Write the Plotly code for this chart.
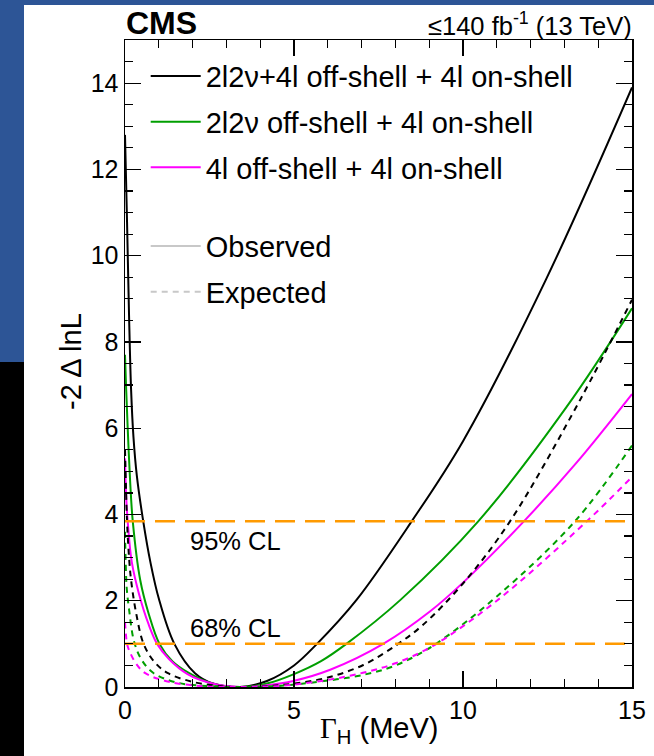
import plotly.graph_objects as go

# ---------------- data ----------------
x_range = [0, 15]

obs_comb_x = [0, 0.06, 0.12, 0.18, 0.25, 0.35, 0.54, 0.75, 1.0, 1.46, 2.07, 2.6, 3.4, 4.2, 5.0, 5.68, 6.85, 8.48, 10.0, 12.45, 15]
obs_comb_y = [12.8, 10.8, 8.6, 6.9, 5.8, 4.9, 3.84, 2.9, 2.05, 1.0, 0.32, 0.08, 0.0, 0.14, 0.5, 1.0, 2.02, 3.84, 5.7, 9.44, 13.9]

exp_comb_x = [0, 0.03, 0.06, 0.12, 0.18, 0.33, 0.55, 0.85, 1.27, 2.0, 2.7, 3.4, 4.2, 5.0, 6.0, 7.05, 8.08, 8.8, 10.0, 11.39, 13.46, 15]
exp_comb_y = [5.5, 4.6, 3.84, 3.0, 2.48, 1.71, 1.0, 0.6, 0.32, 0.12, 0.03, 0.0, 0.02, 0.08, 0.22, 0.51, 1.0, 1.43, 2.4, 3.84, 6.65, 8.98]

obs_2l2v_x = [0, 0.03, 0.08, 0.15, 0.23, 0.45, 0.7, 1.02, 1.4, 1.9, 2.5, 3.4, 4.2, 5.0, 5.8, 6.55, 8.15, 10.45, 13.07, 15]
obs_2l2v_y = [7.7, 7.0, 6.0, 4.8, 3.84, 2.48, 1.7, 1.0, 0.6, 0.32, 0.1, 0.0, 0.08, 0.3, 0.6, 1.0, 2.02, 3.84, 6.5, 8.78]

exp_2l2v_x = [0, 0.02, 0.05, 0.12, 0.27, 0.5, 0.85, 1.55, 2.5, 3.4, 4.5, 5.5, 7.04, 8.0, 9.1, 11.0, 13.31, 15]
exp_2l2v_y = [3.6, 2.9, 2.3, 1.8, 1.05, 0.62, 0.32, 0.1, 0.02, 0.0, 0.02, 0.1, 0.28, 0.5, 0.95, 2.1, 3.84, 5.6]

obs_4l_x = [0, 0.03, 0.08, 0.2, 0.41, 0.7, 0.95, 1.3, 1.85, 2.5, 3.4, 4.2, 4.98, 6.07, 7.64, 9.02, 10.0, 11.8, 13.36, 15]
obs_4l_y = [5.3, 4.5, 3.84, 2.9, 2.17, 1.45, 1.0, 0.65, 0.3, 0.1, 0.0, 0.04, 0.14, 0.4, 1.0, 1.75, 2.42, 3.84, 5.2, 6.79]

exp_4l_x = [0, 0.03, 0.06, 0.15, 0.33, 0.6, 1.3, 2.3, 3.4, 4.5, 5.97, 7.04, 8.0, 9.1, 11.0, 13.66, 15]
exp_4l_y = [1.5, 1.2, 1.0, 0.8, 0.54, 0.32, 0.12, 0.02, 0.0, 0.02, 0.16, 0.33, 0.55, 0.95, 2.0, 3.84, 4.87]

cl_levels = [1.0, 3.84]
cl_labels = ["68% CL", "95% CL"]

series_names = ["2l2ν+4l off-shell + 4l on-shell",
                "2l2ν off-shell + 4l on-shell",
                "4l off-shell + 4l on-shell"]
x_ticks = [0, 5, 10, 15]
y_ticks = [0, 2, 4, 6, 8, 10, 12, 14]

# ---------------- styling ----------------
FONT = "Liberation Sans, Arial, Helvetica, sans-serif"
BLACK = "#000000"
GREEN = "#009F00"
MAGENTA = "#FF00FF"
ORANGE = "#FF9A00"
GREY = "#C8C8C8"
BLUE_BG = "#2D5596"

fig = go.Figure()

curves = [
    (obs_comb_x, obs_comb_y, BLACK, "solid", series_names[0], True, "g1"),
    (obs_2l2v_x, obs_2l2v_y, GREEN, "solid", series_names[1], True, "g2"),
    (obs_4l_x, obs_4l_y, MAGENTA, "solid", series_names[2], True, "g3"),
    (exp_comb_x, exp_comb_y, BLACK, "6px,5px", series_names[0] + " (exp)", False, "g1"),
    (exp_2l2v_x, exp_2l2v_y, GREEN, "6px,5px", series_names[1] + " (exp)", False, "g2"),
    (exp_4l_x, exp_4l_y, MAGENTA, "6px,5px", series_names[2] + " (exp)", False, "g3"),
]
for xs, ys, col, dash, name, show, grp in curves:
    fig.add_trace(go.Scatter(
        x=xs, y=ys, mode="lines", name=name, showlegend=show,
        legendgroup=grp, legend="legend",
        line=dict(color=col, width=2, dash=dash, shape="spline", smoothing=1.0),
        hoverinfo="skip"))

# legend-only traces for observed / expected
fig.add_trace(go.Scatter(x=[None], y=[None], mode="lines", name="Observed",
                         line=dict(color=GREY, width=2), legend="legend2",
                         legendgroup="o"))
fig.add_trace(go.Scatter(x=[None], y=[None], mode="lines", name="Expected",
                         line=dict(color=GREY, width=2, dash="6px,5px"),
                         legend="legend2", legendgroup="e"))

# CL lines
for lvl in cl_levels:
    fig.add_trace(go.Scatter(x=x_range, y=[lvl, lvl], mode="lines", showlegend=False,
                             line=dict(color=ORANGE, width=2.5, dash="20px,10px"),
                             hoverinfo="skip"))

# ---------------- layout ----------------
# target plot frame: x 125..632, y 40..687
W, H = 654, 756
L, R, T, B = 125, W - 632, 40, H - 687
pw, ph = W - L - R, H - T - B


def px2x(px):
    return (px - L) / pw


def py2y(py):
    return (H - B - py) / ph


axis_common = dict(showline=True, linecolor="black", linewidth=1.5, mirror="ticks",
                   ticks="inside", ticklen=16, tickwidth=1.2, tickcolor="black",
                   showgrid=False, zeroline=False, automargin=False,
                   tickfont=dict(family=FONT, size=25, color="black"))

fig.update_layout(
    template="none",
    width=W, height=H,
    margin=dict(l=L, r=R, t=T, b=B, pad=0),
    paper_bgcolor=BLUE_BG, plot_bgcolor="white",
    font=dict(family=FONT, color="black"),
    hovermode=False,
    xaxis=dict(range=x_range, tickvals=x_ticks,
               minor=dict(dtick=1, ticks="inside", ticklen=8, tickwidth=1.2, tickcolor="black"),
               **axis_common),
    yaxis=dict(range=[0, 15], tickvals=y_ticks,
               minor=dict(dtick=0.5, ticks="inside", ticklen=8, tickwidth=1.2, tickcolor="black"),
               **axis_common),
    legend=dict(x=px2x(145.7), y=py2y(50.6), xanchor="left", yanchor="top",
                bgcolor="rgba(0,0,0,0)", borderwidth=0, traceorder="grouped", tracegroupgap=5,
                itemwidth=50, font=dict(family=FONT, size=29, color="black")),
    legend2=dict(x=px2x(145.7), y=py2y(220.6), xanchor="left", yanchor="top",
                 bgcolor="rgba(0,0,0,0)", borderwidth=0, traceorder="grouped", tracegroupgap=5,
                 itemwidth=50, font=dict(family=FONT, size=29, color="black")),
    shapes=[
        dict(type="rect", xref="paper", yref="paper", layer="below",
             x0=px2x(24), x1=px2x(670), y0=py2y(775), y1=py2y(5),
             fillcolor="white", line=dict(width=0)),
        dict(type="rect", xref="paper", yref="paper", layer="below",
             x0=px2x(-10), x1=px2x(24), y0=py2y(775), y1=py2y(362),
             fillcolor="black", line=dict(width=0)),
    ],
    annotations=[
        dict(text="<b>CMS</b>", xref="paper", yref="paper", x=px2x(124), y=py2y(23),
             xanchor="left", yanchor="middle", showarrow=False,
             font=dict(family=FONT, size=32, color="black")),
        dict(text="≤140 fb<sup>-1</sup> (13 TeV)", xref="paper", yref="paper",
             x=px2x(634), y=py2y(24), xanchor="right", yanchor="middle", showarrow=False,
             font=dict(family=FONT, size=25.5, color="black")),
        dict(text="<span style='font-family:Liberation Serif'>Γ</span><sub>H</sub> (MeV)",
             xref="paper", yref="paper", x=0.5, y=py2y(730), xanchor="center",
             yanchor="middle", showarrow=False,
             font=dict(family=FONT, size=29, color="black")),
        dict(text="-2 Δ lnL", xref="paper", yref="paper", x=px2x(71), y=py2y(362),
             xanchor="center", yanchor="middle", textangle=-90, showarrow=False,
             font=dict(family=FONT, size=29, color="black")),
        dict(text=cl_labels[0], xref="x", yref="y", x=1.85, y=cl_levels[0] + 0.36,
             xanchor="left", yanchor="middle", showarrow=False,
             font=dict(family=FONT, size=25.5, color="black")),
        dict(text=cl_labels[1], xref="x", yref="y", x=1.85, y=cl_levels[1] - 0.46,
             xanchor="left", yanchor="middle", showarrow=False,
             font=dict(family=FONT, size=25.5, color="black")),
    ],
)

# remove the default page margin so the figure fills the window exactly
fig.write_html("out.html",
               config={"displayModeBar": False, "staticPlot": True},
               post_script="document.body.style.margin='0';"
                           "document.body.style.background='" + BLUE_BG + "';")
